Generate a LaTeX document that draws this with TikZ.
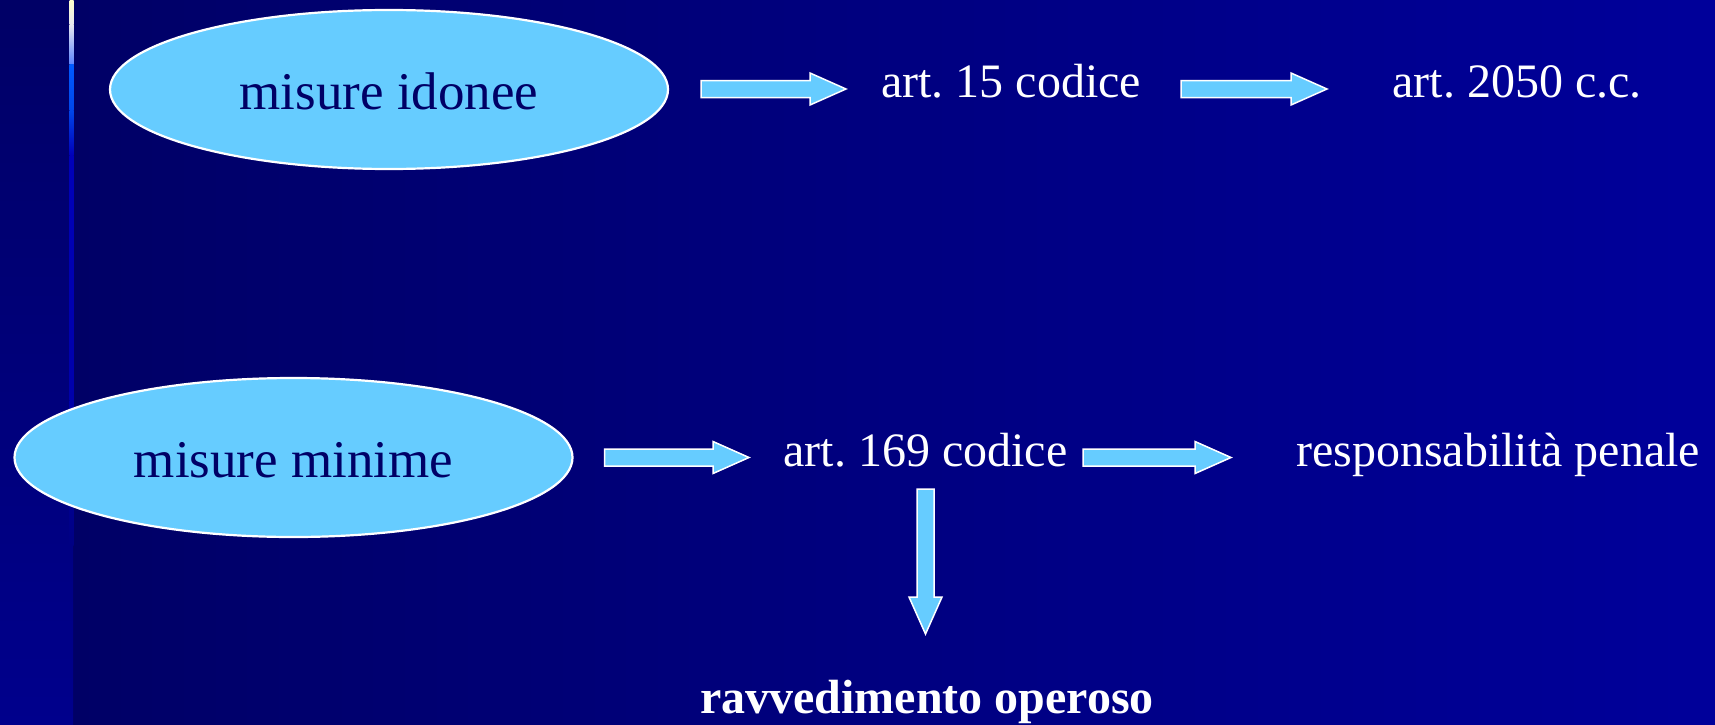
\documentclass[tikz,border=0pt]{standalone}
\usepackage{fontspec}
\setmainfont{Liberation Serif}
\usetikzlibrary{shapes.geometric,calc}
\frenchspacing

\definecolor{sky}{HTML}{66CCFF}
\definecolor{navytext}{HTML}{000066}
\definecolor{bgleft}{RGB}{0,0,102}
\definecolor{bgright}{RGB}{0,0,154}
\definecolor{stripbottom}{RGB}{0,0,140}

\tikzset{
  bubble/.style={ellipse, fill=sky, draw=white, line width=2.2pt,
    minimum width=558pt, minimum height=159pt, inner sep=0pt,
    text=navytext, font=\fontsize{53}{60}\selectfont,
    text height=40pt, text depth=0pt},
  lbl/.style={text=white, font=\fontsize{48}{56}\selectfont,
    inner sep=0pt, anchor=base},
  blockarrow/.style={fill=sky, draw=white, line width=1.5pt, line join=miter},
}

% block arrow pointing right, from tail #1 to tip #2
\newcommand\harrowshape[2]{%
  \draw[blockarrow] ($(#1)+(0,-8.5)$) -- ($(#2)+(-36,-8.5)$) -- ($(#2)+(-36,-16)$)
    -- (#2) -- ($(#2)+(-36,16)$) -- ($(#2)+(-36,8.5)$) -- ($(#1)+(0,8.5)$) -- cycle;}
% block arrow pointing down, from tail #1 to tip #2
\newcommand\varrowshape[2]{%
  \draw[blockarrow] ($(#1)+(-8.5,0)$) -- ($(#2)+(-8.5,-37)$) -- ($(#2)+(-16.5,-37)$)
    -- (#2) -- ($(#2)+(16.5,-37)$) -- ($(#2)+(8.5,-37)$) -- ($(#1)+(8.5,0)$) -- cycle;}

\begin{document}
\begin{tikzpicture}[x=1pt,y=-1pt]
\useasboundingbox (0,0) rectangle (1715,725);

% background: main area and left strip
\shade[left color=bgleft, right color=bgright] (73,0) rectangle (1715,725);
\shade[top color=bgleft, bottom color=stripbottom] (0,0) rectangle (73,725);

% glowing vertical rule
\shade[top color={rgb,255:red,255;green,255;blue,204}, bottom color={rgb,255:red,230;green,230;blue,240}] (69.5,0) rectangle (73.5,25);
\shade[top color={rgb,255:red,230;green,230;blue,240}, bottom color={rgb,255:red,90;green,130;blue,255}] (69.5,25) rectangle (73.5,65);
\shade[top color={rgb,255:red,0;green,90;blue,255}, bottom color={rgb,255:red,0;green,70;blue,235}] (69.5,65) rectangle (73.5,110);
\shade[top color={rgb,255:red,0;green,70;blue,235}, bottom color={rgb,255:red,0;green,0;blue,185}] (69.5,110) rectangle (73.5,155);
\shade[top color={rgb,255:red,0;green,0;blue,185}, bottom color={rgb,255:red,0;green,0;blue,170}] (69.5,155) rectangle (73.5,400);
\shade[top color={rgb,255:red,0;green,0;blue,170}, bottom color={rgb,255:red,0;green,0;blue,131}] (69.5,400) rectangle (73.5,545);

% nodes
\node[bubble] (idonee) at (389,89.5) {misure idonee};
\node[bubble] (minime) at (293.5,457.5) {misure minime};
\node[lbl] (art15) at (1011,97) {art. 15 codice};
\node[lbl] (art2050) at (1517,97) {art. 2050 c.c.};
\node[lbl] (art169) at (925.5,466) {art. 169 codice};
\node[lbl] (penale) at (1498,466) {responsabilità penale};
\node[lbl, font=\fontsize{48}{56}\selectfont\bfseries] (ravv) at (927,713) {ravvedimento operoso};

% arrow ends
\coordinate (a1s) at ($(idonee.east)+(32,-0.5)$);
\coordinate (a1e) at (846,89);
\coordinate (a2s) at (1181,89);
\coordinate (a2e) at (1327,89);
\coordinate (a3s) at ($(minime.east)+(31,0)$);
\coordinate (a3e) at (749,457.5);
\coordinate (a4s) at (1083,457.5);
\coordinate (a4e) at (1231,457.5);
\coordinate (a5s) at (art169.south |- 0,489);
\coordinate (a5e) at (art169.south |- 0,634);

% connectors
\harrowshape{a1s}{a1e}
\harrowshape{a2s}{a2e}
\harrowshape{a3s}{a3e}
\harrowshape{a4s}{a4e}
\varrowshape{a5s}{a5e}
\end{tikzpicture}
\end{document}
